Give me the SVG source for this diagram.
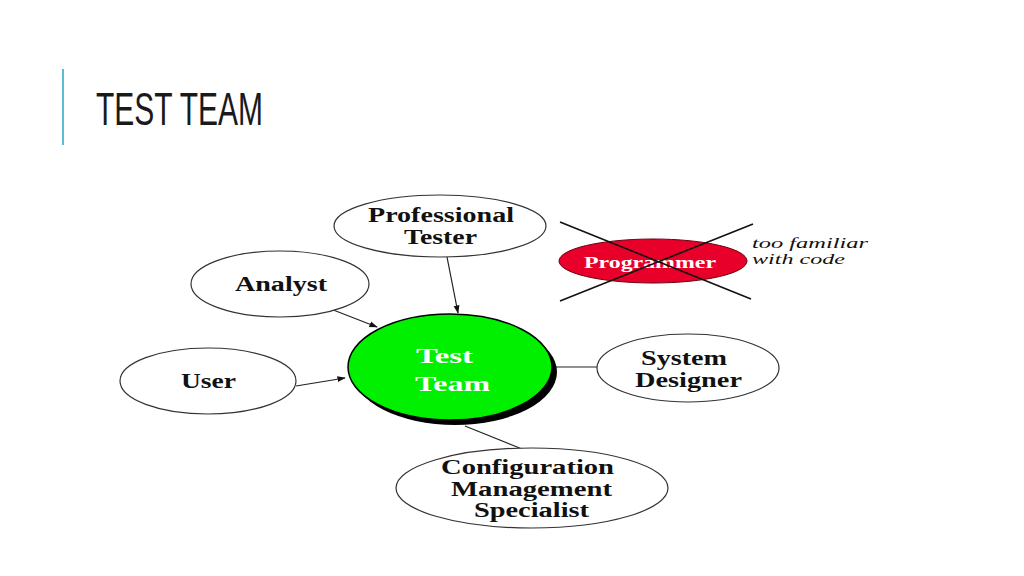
<svg xmlns="http://www.w3.org/2000/svg" width="1024" height="576" viewBox="0 0 1024 576">
<style>
.node{fill:#fff;stroke:#333;stroke-width:1.2}
.lbl{font-family:"Liberation Serif","Times New Roman",serif;font-weight:bold;font-size:20px;fill:#111}
.wh{fill:#fff;font-size:22px}
.conn{stroke:#222;stroke-width:1.2;fill:none}
.note{font-family:"Liberation Serif","Times New Roman",serif;font-style:italic;font-size:15px;fill:#111}
</style>
<defs>
<marker id="arr" viewBox="0 0 10 10" refX="9" refY="5" markerWidth="7" markerHeight="7" orient="auto"><path d="M0,1.5 L10,5 L0,8.5 z" fill="#111"/></marker>
</defs>
<rect width="1024" height="576" fill="#fff"/>
<line x1="63" y1="69" x2="63" y2="145" stroke="#5BBCD4" stroke-width="2"/>
<text x="96" y="125" font-family="Liberation Sans,Arial,sans-serif" font-size="47" fill="#1a1a1a" textLength="167" lengthAdjust="spacingAndGlyphs">TEST TEAM</text>

<g id="connectors">
<line class="conn" x1="447" y1="257" x2="458" y2="313" marker-end="url(#arr)"/>
<line class="conn" x1="323" y1="306" x2="377" y2="327" marker-end="url(#arr)"/>
<line class="conn" x1="296" y1="386" x2="345" y2="378" marker-end="url(#arr)"/>
<line class="conn" x1="555" y1="367" x2="597" y2="367"/>
<line class="conn" x1="465" y1="426" x2="522" y2="449"/>
</g>

<g id="professional-tester">
<ellipse class="node" cx="440" cy="226" rx="106" ry="31"/>
<text class="lbl" x="368" y="222" textLength="146" lengthAdjust="spacingAndGlyphs">Professional</text>
<text class="lbl" x="404" y="244" textLength="73" lengthAdjust="spacingAndGlyphs">Tester</text>
</g>
<g id="analyst">
<ellipse class="node" cx="280" cy="284" rx="89" ry="33"/>
<text class="lbl" x="235" y="291" textLength="92" lengthAdjust="spacingAndGlyphs">Analyst</text>
</g>
<g id="user">
<ellipse class="node" cx="208" cy="381" rx="88" ry="33"/>
<text class="lbl" x="181" y="388" textLength="55" lengthAdjust="spacingAndGlyphs">User</text>
</g>
<g id="test-team">
<ellipse cx="455" cy="372" rx="102" ry="53" fill="#000"/>
<ellipse cx="450" cy="367" rx="102" ry="53" fill="#00F000" stroke="#000" stroke-width="1.5"/>
<text class="lbl wh" x="416" y="363" textLength="57" lengthAdjust="spacingAndGlyphs">Test</text>
<text class="lbl wh" x="415" y="391" textLength="75" lengthAdjust="spacingAndGlyphs">Team</text>
</g>
<g id="system-designer">
<ellipse class="node" cx="688" cy="368" rx="91" ry="34"/>
<text class="lbl" x="641" y="365" textLength="86" lengthAdjust="spacingAndGlyphs">System</text>
<text class="lbl" x="635" y="387" textLength="107" lengthAdjust="spacingAndGlyphs">Designer</text>
</g>
<g id="config-mgmt">
<ellipse class="node" cx="532" cy="488" rx="136" ry="40"/>
<text class="lbl" x="441" y="474" textLength="173" lengthAdjust="spacingAndGlyphs">Configuration</text>
<text class="lbl" x="451" y="496" textLength="161" lengthAdjust="spacingAndGlyphs">Management</text>
<text class="lbl" x="474" y="517" textLength="115" lengthAdjust="spacingAndGlyphs">Specialist</text>
</g>
<g id="programmer">
<ellipse cx="653" cy="261" rx="94" ry="22" fill="#E8002A" stroke="#6a0010" stroke-width="1"/>
<text x="584" y="268" font-family="Liberation Serif,serif" font-weight="bold" font-size="17" fill="#fff" textLength="132" lengthAdjust="spacingAndGlyphs">Programmer</text>
<line x1="560" y1="222" x2="751" y2="299" stroke="#111" stroke-width="1.6"/>
<line x1="560" y1="301" x2="753" y2="224" stroke="#111" stroke-width="1.6"/>
</g>
<g id="note">
<text class="note" x="752" y="248" textLength="116" lengthAdjust="spacingAndGlyphs">too familiar</text>
<text class="note" x="752" y="264" textLength="93" lengthAdjust="spacingAndGlyphs">with code</text>
</g>
</svg>
